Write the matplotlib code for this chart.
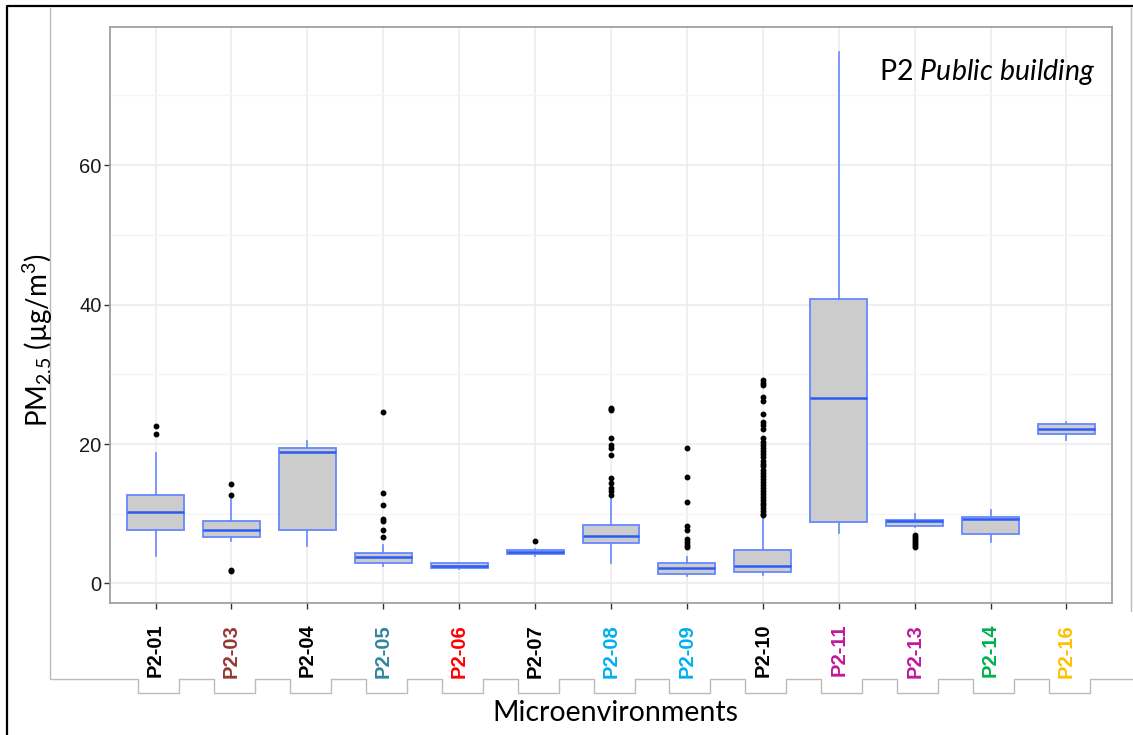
import numpy as np
import matplotlib
matplotlib.use('Agg')
import matplotlib.pyplot as plt
from matplotlib.lines import Line2D

# microambientes y colores de las etiquetas
labels = ['P2-01', 'P2-03', 'P2-04', 'P2-05', 'P2-06', 'P2-07', 'P2-08',
          'P2-09', 'P2-10', 'P2-11', 'P2-13', 'P2-14', 'P2-16']
label_colors = ['black', '#953735', 'black', '#31859C', '#FF0000', 'black', '#00B0F0',
                '#00B0F0', 'black', '#C0189F', '#C0189F', '#00B050', '#FFC000']

# estadisticos (ug/m3)
medians = [10.2, 7.6, 18.8, 3.8, 2.5, 4.5, 6.8, 2.2, 2.5, 26.6, 8.9, 9.2, 22.2]
q1 = [7.6, 6.7, 7.7, 2.9, 2.2, 4.2, 5.8, 1.4, 1.6, 8.8, 8.2, 7.1, 21.5]
q3 = [12.7, 9.0, 19.4, 4.3, 2.9, 4.8, 8.4, 2.9, 4.8, 40.8, 9.1, 9.6, 22.8]
whisker_low = [4.0, 6.1, 5.4, 2.5, 2.1, 4.0, 2.9, 1.1, 1.2, 7.2, 8.1, 6.0, 20.6]
whisker_high = [18.7, 12.3, 20.5, 5.5, 3.0, 5.0, 12.3, 3.8, 9.4, 76.2, 9.9, 10.6, 23.1]
outliers = [
    [22.6, 21.4],
    [14.3, 12.7, 2.0, 1.8],
    [],
    [24.6, 13.0, 11.3, 9.3, 8.9, 7.7, 6.6],
    [],
    [6.1],
    [25.2, 25.0, 24.9, 20.8, 19.9, 19.4, 18.4, 15.1, 14.4, 13.7, 13.3, 12.7],
    [19.4, 15.3, 11.7, 8.3, 7.7, 6.4, 6.0, 5.5, 5.3],
    [29.2, 28.8, 28.5, 26.8, 26.2, 24.3, 23.2, 22.7, 22.2, 20.8, 20.3, 19.8,
     19.4, 19.0, 18.5, 18.1, 17.6, 17.2, 16.8, 16.3, 15.9, 15.4, 15.0, 14.6,
     14.1, 13.7, 13.2, 12.8, 12.4, 12.0, 11.6, 11.2, 10.8, 10.4, 10.0, 9.8],
    [],
    [7.0, 6.7, 6.4, 6.1, 5.8, 5.5, 5.2],
    [],
    [],
]
y_ticks = [0, 20, 40, 60]

W, H = 1133, 735

plt.rcParams['mathtext.fontset'] = 'custom'
plt.rcParams['mathtext.rm'] = 'Lato'
plt.rcParams['mathtext.it'] = 'Lato:italic'
plt.rcParams['mathtext.default'] = 'regular'


def fx(px):
    return px / W


def fy(py):
    return 1 - py / H


fig = plt.figure(figsize=(W / 100, H / 100), dpi=100)
ax = fig.add_axes([fx(110), fy(603), fx(1112) - fx(110), fy(27) - fy(603)])

stats = []
for i in range(len(labels)):
    stats.append({'med': medians[i], 'q1': q1[i], 'q3': q3[i],
                  'whislo': whisker_low[i], 'whishi': whisker_high[i],
                  'fliers': outliers[i], 'label': labels[i]})

pos = np.arange(1, len(labels) + 1)
ax.bxp(stats, positions=pos, widths=0.75, patch_artist=True, showcaps=False,
       boxprops=dict(facecolor='#CCCCCC', edgecolor='#6688FF', linewidth=1.3),
       whiskerprops=dict(color='#6688FF', linewidth=1.2),
       medianprops=dict(color='#2A5CF5', linewidth=1.8),
       flierprops=dict(marker='o', markersize=3.2, markerfacecolor='black',
                       markeredgecolor='black'),
       zorder=3)

ax.set_xlim(0.4, len(labels) + 0.6)
ax.set_ylim(-2.8, 79.8)
ax.set_yticks(y_ticks)
ax.set_yticks([10, 30, 50, 70], minor=True)
ax.set_xticks(pos)
ax.set_xticklabels(labels, rotation=90, fontfamily='Liberation Sans', fontweight='bold',
                   fontsize=14.5, va='top')
for t, c in zip(ax.get_xticklabels(), label_colors):
    t.set_color(c)
ax.tick_params(axis='x', length=4, width=1, color='#333333', pad=11)
ax.tick_params(axis='y', length=4, width=1, color='#333333', pad=2,
               labelsize=14.5, labelcolor='#1A1A1A')
ax.tick_params(axis='y', which='minor', length=0)
for t in ax.get_yticklabels():
    t.set_fontfamily('Liberation Sans')

ax.grid(True, which='major', color='#EBEBEB', linewidth=1.1, zorder=0)
ax.grid(True, which='minor', axis='y', color='#F5F5F5', linewidth=0.9, zorder=0)
ax.set_axisbelow(True)
for s in ax.spines.values():
    s.set_color('#A0A0A0')
    s.set_linewidth(1.3)

# titulos de ejes y anotacion
fig.text(fx(615), fy(713), 'Microenvironments', fontfamily='Lato', fontsize=20.5,
         ha='center', va='center')
fig.text(fx(38), fy(340), r'PM$_{2.5}$ (µg/m$^3$)', fontfamily='Lato', fontsize=20,
         rotation=90, ha='center', va='center')
fig.text(fx(1095), fy(80), r'P2 $\it{Public\ building}$', fontfamily='Lato',
         fontsize=20.5, ha='right', va='baseline')

# marco gris con muescas debajo de las etiquetas
tick_px = [ax.transData.transform((p, 0))[0] + 3 for p in pos]
sx = [fx(50), fx(50)]
sy = [fy(8), fy(679)]
for c in tick_px:
    sx += [fx(c - 20.5), fx(c - 20.5), fx(c + 20.5), fx(c + 20.5)]
    sy += [fy(679), fy(693), fy(693), fy(679)]
sx.append(fx(1133))
sy.append(fy(679))
fig.add_artist(Line2D(sx, sy, color='#BBBBBB', linewidth=1.0, transform=fig.transFigure))
fig.add_artist(Line2D([fx(1131), fx(1131)], [fy(8), fy(611)], color='#BBBBBB',
                      linewidth=1.0, transform=fig.transFigure))

# borde negro exterior
fig.add_artist(Line2D([fx(7), fx(7), fx(1133)], [fy(735), fy(6), fy(6)], color='black',
                      linewidth=1.6, transform=fig.transFigure))

fig.savefig('out.png', dpi=100)
